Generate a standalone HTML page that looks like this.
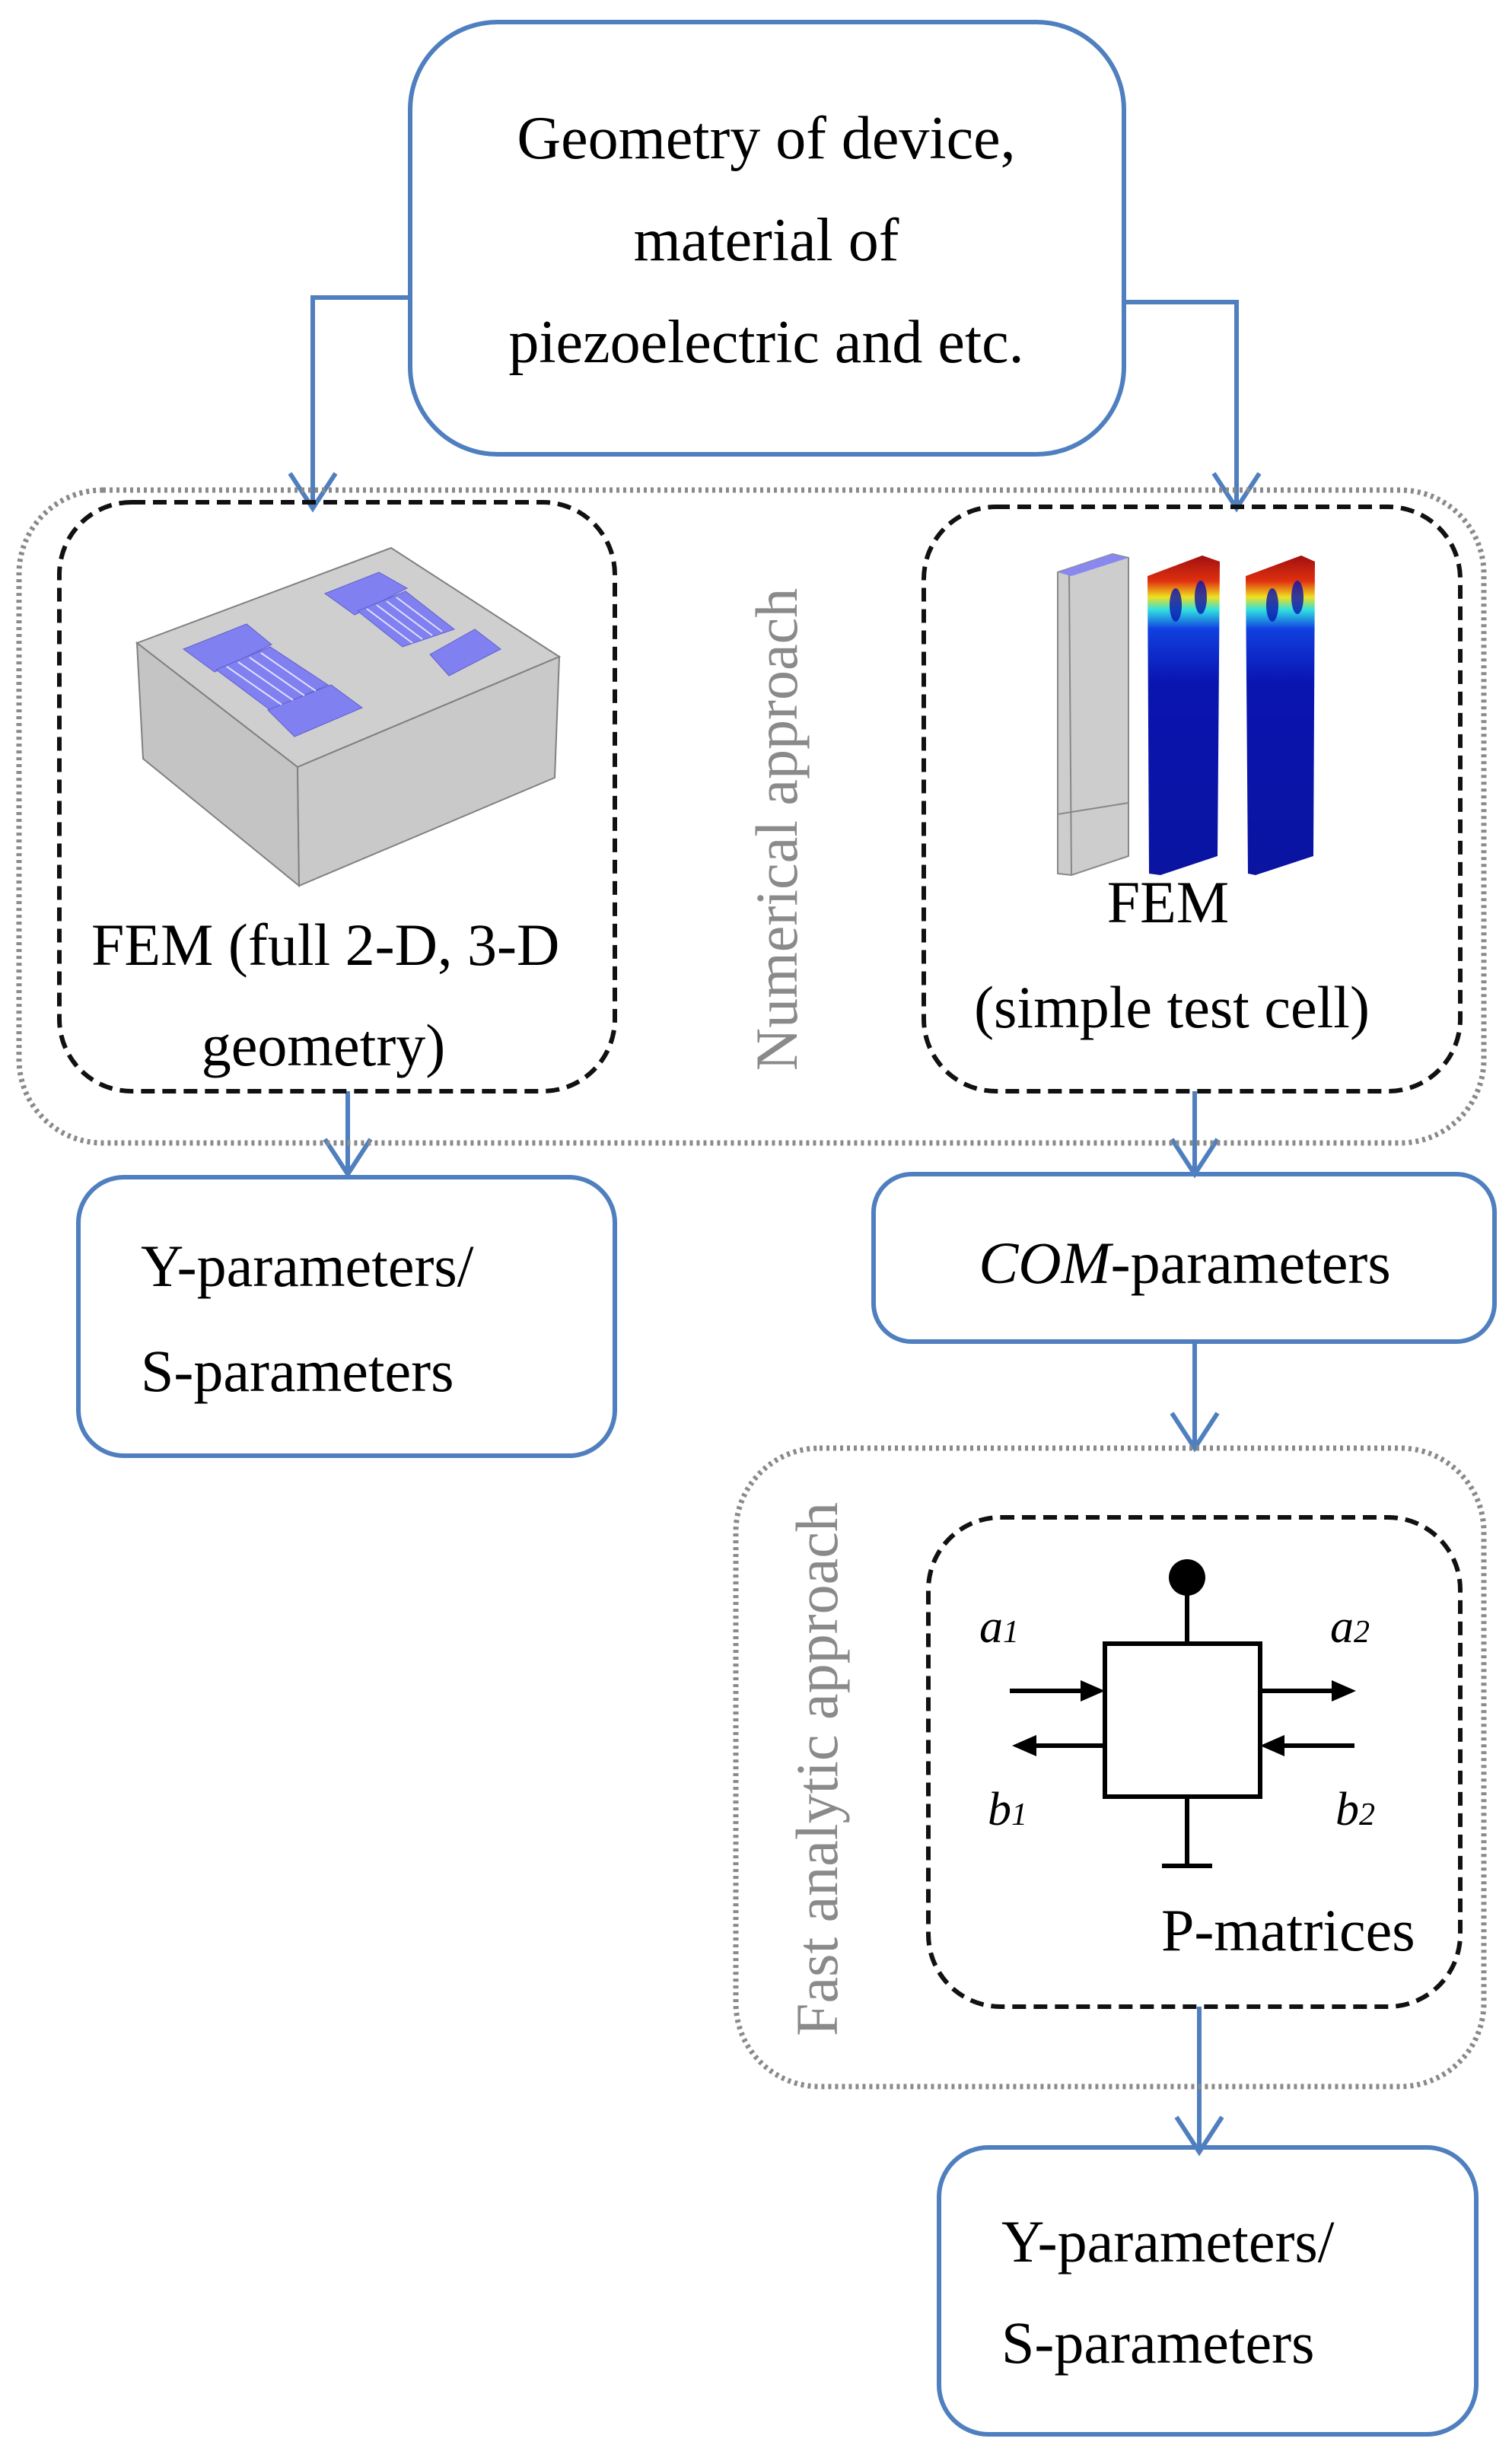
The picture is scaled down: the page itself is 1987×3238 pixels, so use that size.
<!DOCTYPE html>
<html><head><meta charset="utf-8"><style>
html,body{margin:0;padding:0;background:#fff}
svg{display:block}
text{font-family:"Liberation Serif",serif;fill:#000}
</style></head><body>
<svg width="1987" height="3238" viewBox="0 0 1987 3238" xmlns="http://www.w3.org/2000/svg">
<defs>
<linearGradient id="heat" x1="0" y1="0" x2="0" y2="1">
<stop offset="0" stop-color="#a01010"/><stop offset="0.08" stop-color="#e03010"/><stop offset="0.13" stop-color="#f0e020"/><stop offset="0.17" stop-color="#30e0e0"/><stop offset="0.23" stop-color="#1040e0"/><stop offset="0.4" stop-color="#0a14b0"/><stop offset="1" stop-color="#0a14a0"/>
</linearGradient>
</defs>
<g fill="none" stroke="#4f7fbf" stroke-width="6">
<rect x="539" y="29" width="938" height="568" rx="115"/>
<polyline points="539,391 411,391 411,668"/>
<polyline points="381,622 411,668 441,622"/>
<polyline points="1477,397 1625,397 1625,668"/>
<polyline points="1595,622 1625,668 1655,622"/>
<line x1="457" y1="1434" x2="457" y2="1543"/>
<polyline points="427,1497 457,1543 487,1497"/>
<line x1="1570" y1="1434" x2="1570" y2="1543"/>
<polyline points="1540,1497 1570,1543 1600,1497"/>
<line x1="1570" y1="1763" x2="1570" y2="1903"/>
<polyline points="1540,1857 1570,1903 1600,1857"/>
<line x1="1576" y1="2637" x2="1576" y2="2828"/>
<polyline points="1546,2782 1576,2828 1606,2782"/>
<rect x="103" y="1547" width="705" height="366" rx="60"/>
<rect x="1148" y="1543" width="816" height="220" rx="50"/>
<rect x="1234" y="2822" width="706" height="377" rx="65"/>
</g>
<g fill="none" stroke="#8a8a8a" stroke-width="7" stroke-dasharray="4 5">
<rect x="25" y="644" width="1925" height="858" rx="110"/>
<rect x="967" y="1903" width="983" height="839" rx="110"/>
</g>
<g fill="none" stroke="#111" stroke-width="6" stroke-dasharray="18 10">
<rect x="78" y="660" width="730" height="774" rx="95"/>
<rect x="1214" y="666" width="705" height="768" rx="95"/>
<rect x="1220" y="1994" width="699" height="643" rx="95"/>
</g>
<!-- 3D block -->
<g stroke="#808080" stroke-width="2">
<polygon points="180,845 514,720 735,863 391,1008" fill="#cfcfcf"/>
<polygon points="180,845 391,1008 393,1164 188,997" fill="#c4c4c4"/>
<polygon points="391,1008 735,863 729,1022 393,1164" fill="#c9c9c9"/>
</g>
<g fill="#8080f0" stroke="#6060d0" stroke-width="1">
<polygon points="241,853 324,820 357,847 282,883"/>
<polygon points="284,880 355,850 431,900 355,933"/>
<polygon points="352,933 435,900 476,930 387,968"/>
<polygon points="427,780 498,752 535,773 466,808"/>
<polygon points="470,803 533,777 597,827 529,850"/>
<polygon points="565,860 624,827 658,853 590,888"/>
</g>
<g stroke="#e0e0ff" stroke-width="2">
<line x1="298" y1="876" x2="370" y2="926"/><line x1="313" y1="870" x2="385" y2="920"/><line x1="328" y1="864" x2="400" y2="914"/><line x1="343" y1="858" x2="415" y2="908"/>
<line x1="482" y1="800" x2="542" y2="845"/><line x1="495" y1="795" x2="555" y2="840"/><line x1="508" y1="790" x2="568" y2="835"/><line x1="521" y1="785" x2="581" y2="830"/>
</g>
<!-- test cells -->
<polygon points="1390,752 1462,728 1483,733 1483,1125 1408,1150 1390,1148" fill="#cdcdcd" stroke="#888" stroke-width="2"/>
<line x1="1405" y1="752" x2="1408" y2="1150" stroke="#888" stroke-width="2"/>
<polygon points="1390,752 1462,728 1483,733 1408,757" fill="#8888ee"/>
<line x1="1390" y1="1070" x2="1483" y2="1055" stroke="#888" stroke-width="2"/>
<polygon points="1508,757 1580,730 1603,738 1600,1125 1525,1150 1510,1148" fill="url(#heat)"/>
<polygon points="1637,757 1710,730 1728,738 1726,1125 1650,1150 1640,1148" fill="url(#heat)"/>
<g fill="#0a14b0" opacity="0.8"><ellipse cx="1545" cy="795" rx="8" ry="22"/><ellipse cx="1578" cy="785" rx="8" ry="22"/><ellipse cx="1672" cy="795" rx="8" ry="22"/><ellipse cx="1705" cy="785" rx="8" ry="22"/></g>
<!-- P-matrix symbol -->
<g stroke="#000" stroke-width="6" fill="none">
<rect x="1452" y="2160" width="204" height="201"/>
<line x1="1560" y1="2075" x2="1560" y2="2160"/>
<line x1="1560" y1="2361" x2="1560" y2="2452"/>
<line x1="1527" y1="2452" x2="1593" y2="2452"/>
<line x1="1327" y1="2222" x2="1430" y2="2222"/>
<line x1="1350" y1="2294" x2="1452" y2="2294"/>
<line x1="1656" y1="2222" x2="1760" y2="2222"/>
<line x1="1678" y1="2294" x2="1780" y2="2294"/>
</g>
<circle cx="1560" cy="2073" r="24" fill="#000"/>
<g fill="#000">
<polygon points="1452,2222 1420,2208 1420,2236"/>
<polygon points="1330,2294 1362,2280 1362,2308"/>
<polygon points="1782,2222 1750,2208 1750,2236"/>
<polygon points="1656,2294 1688,2280 1688,2308"/>
</g>
<g font-style="italic" font-size="62">
<text x="1287" y="2158">a<tspan font-size="42">1</tspan></text>
<text x="1748" y="2158">a<tspan font-size="42">2</tspan></text>
<text x="1298" y="2398">b<tspan font-size="42">1</tspan></text>
<text x="1755" y="2398">b<tspan font-size="42">2</tspan></text>
</g>
<g font-size="78">
<text x="1007" y="208" text-anchor="middle" font-size="80">Geometry of device,</text>
<text x="1007" y="342" text-anchor="middle" font-size="80">material of</text>
<text x="1007" y="476" text-anchor="middle" font-size="80">piezoelectric and etc.</text>
<text x="120" y="1268">FEM (full 2-D, 3-D</text>
<text x="425" y="1400" text-anchor="middle">geometry)</text>
<text x="1535" y="1212" text-anchor="middle">FEM</text>
<text x="1540" y="1350" text-anchor="middle">(simple test cell)</text>
<text x="185" y="1690">Y-parameters/</text>
<text x="185" y="1828">S-parameters</text>
<text x="1557" y="1686" text-anchor="middle"><tspan font-style="italic">COM</tspan>-parameters</text>
<text x="1526" y="2563">P-matrices</text>
<text x="1316" y="2972">Y-parameters/</text>
<text x="1316" y="3105">S-parameters</text>
<text transform="translate(1047,1090) rotate(-90)" text-anchor="middle" style="fill:#8a8a8a">Numerical approach</text>
<text transform="translate(1100,2325) rotate(-90)" text-anchor="middle" style="fill:#8a8a8a">Fast analytic approach</text>
</g>
</svg>
</body></html>
